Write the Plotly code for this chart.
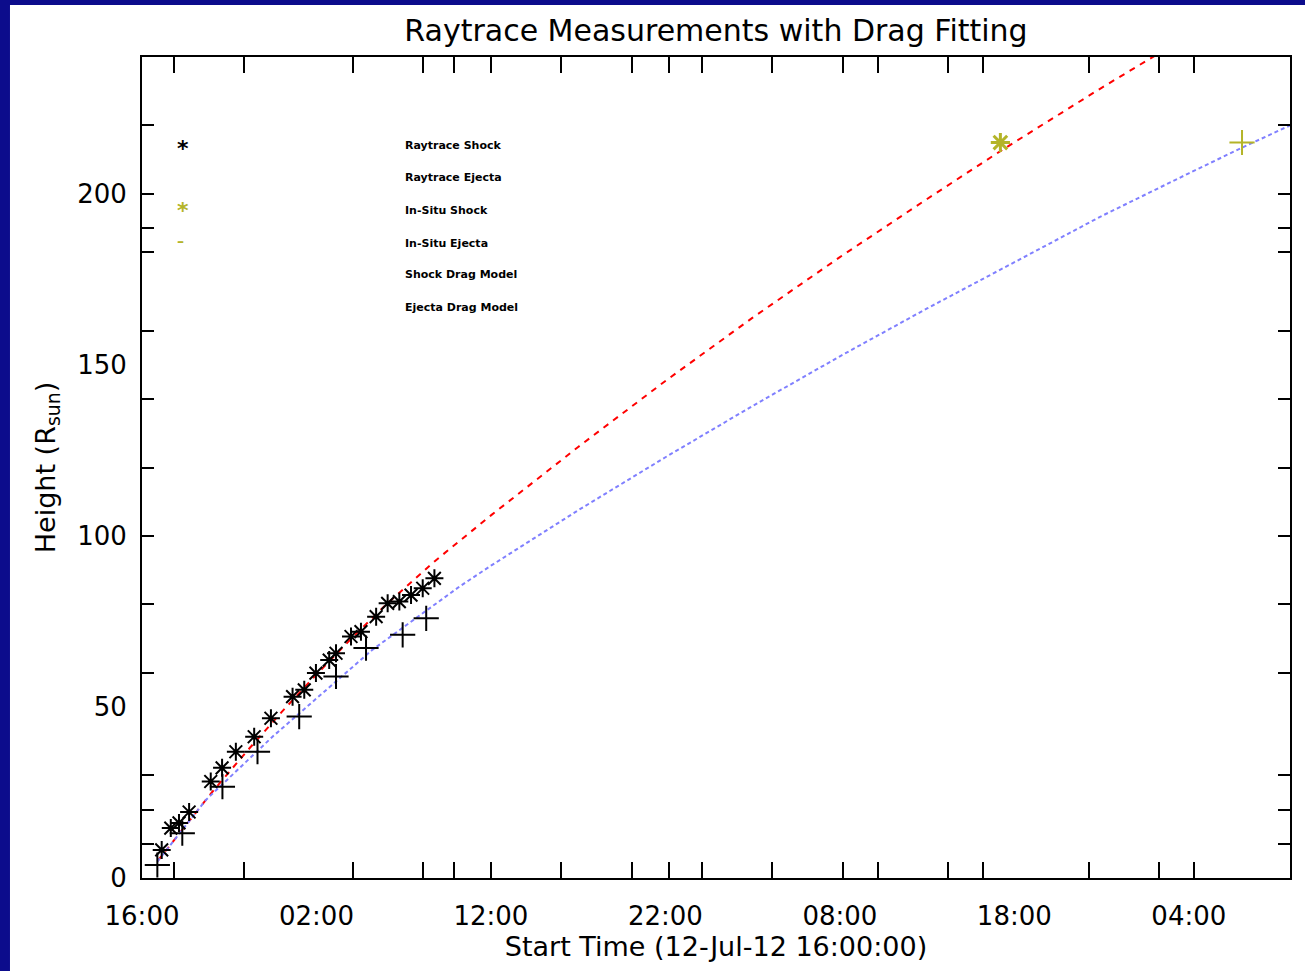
import plotly.graph_objects as go

# ---- data (hours since 12-Jul-12 16:00:00, heights in R_sun) ----
shock_hours = [1.13, 1.65, 2.12, 2.70, 3.94, 4.59, 5.38, 6.43, 7.39, 8.63, 9.30, 9.97,
               10.73, 11.12, 11.98, 12.55, 13.42, 14.08, 14.75, 15.42, 16.09, 16.76]
shock_heights = [8.2, 14.6, 16.1, 19.3, 28.2, 32.2, 36.9, 41.3, 46.7, 53.0, 55.0, 59.9,
                 63.7, 65.7, 70.6, 72.0, 76.4, 80.3, 80.8, 82.7, 84.7, 87.6]

ejecta_hours = [0.88, 2.31, 4.61, 6.62, 9.01, 11.12, 12.84, 14.94, 16.29]
ejecta_heights = [3.8, 13.1, 26.7, 36.9, 47.2, 58.9, 67.2, 71.1, 75.9]

insitu_shock_hours = [49.2]
insitu_shock_heights = [215.0]
insitu_ejecta_hours = [63.05]
insitu_ejecta_heights = [215.0]

shock_model_hours = [0.9, 2, 4, 6, 8, 10, 12, 14, 16.8, 20, 25, 30, 35, 40, 45, 49.2, 52, 55, 58.1, 60]
shock_model_heights = [5, 12, 25, 37, 48.5, 59.5, 70, 80, 92.7, 106, 126, 145.3, 163.8, 181.5,
                       198.5, 212.5, 221.5, 231, 240.5, 246]

ejecta_model_hours = [0.88, 3.66, 7.48, 13.2, 18.2, 20, 25, 30, 35, 40, 45, 50, 55, 60, 63.05, 65.8]
ejecta_model_heights = [4.8, 22.8, 41.3, 66.7, 85.2, 91.3, 107.5, 123, 138, 152.5, 166.5, 180,
                        193.5, 206, 213.5, 220]

x_label_vals = [0, 10, 20, 30, 40, 50, 60]
x_label_text = ["16:00", "02:00", "12:00", "22:00", "08:00", "18:00", "04:00"]
x_minor_vals = [1.84, 5.86, 12.1, 16.1, 17.9, 20.0, 24.0, 28.1, 30.2, 32.1, 36.1, 40.2,
                42.2, 46.2, 48.2, 54.3, 58.3, 60.3]
y_label_vals = [0, 50, 100, 150, 200]
y_minor_vals = [10, 20, 30, 60, 80, 100, 120, 140, 160, 183, 190, 200, 220]

legend_labels = ["Raytrace Shock", "Raytrace Ejecta", "In-Situ Shock", "In-Situ Ejecta",
                 "Shock Drag Model", "Ejecta Drag Model"]

OLIVE = "#b4b428"
NAVY = "#0c0c8c"
FONT = "DejaVu Sans"

fig = go.Figure()

fig.add_trace(go.Scatter(x=shock_model_hours, y=shock_model_heights, mode="lines",
                         line=dict(color="#ff0000", width=2, dash="6px,6px"),
                         name="Shock Drag Model", showlegend=False))
fig.add_trace(go.Scatter(x=ejecta_model_hours, y=ejecta_model_heights, mode="lines",
                         line=dict(color="#8080ff", width=2, dash="4px,3px"),
                         name="Ejecta Drag Model", showlegend=False))
fig.add_trace(go.Scatter(x=shock_hours, y=shock_heights, mode="markers",
                         marker=dict(symbol="asterisk-open", size=15, color="black",
                                     line=dict(color="black", width=2)),
                         name="Raytrace Shock", showlegend=False))
fig.add_trace(go.Scatter(x=ejecta_hours, y=ejecta_heights, mode="markers",
                         marker=dict(symbol="cross-thin-open", size=18, color="black",
                                     line=dict(color="black", width=2)),
                         name="Raytrace Ejecta", showlegend=False))
fig.add_trace(go.Scatter(x=insitu_shock_hours, y=insitu_shock_heights, mode="markers",
                         marker=dict(symbol="asterisk-open", size=16, color=OLIVE,
                                     line=dict(color=OLIVE, width=3)),
                         name="In-Situ Shock", showlegend=False))
fig.add_trace(go.Scatter(x=insitu_ejecta_hours, y=insitu_ejecta_heights, mode="markers",
                         marker=dict(symbol="cross-thin-open", size=18, color=OLIVE,
                                     line=dict(color=OLIVE, width=2)),
                         name="In-Situ Ejecta", showlegend=False))

# custom IDL-style legend
leg_y = [0.8928, 0.8538, 0.8136, 0.7734, 0.7345, 0.6943]
for lab, yy in zip(legend_labels, leg_y):
    fig.add_annotation(x=0.2273, y=yy, xref="paper", yref="paper", text="<b>" + lab + "</b>",
                       showarrow=False, xanchor="left", yanchor="middle",
                       font=dict(family=FONT, size=11, color="black"))
fig.add_annotation(x=0.0287, y=0.9068, xref="paper", yref="paper", text="<b>*</b>",
                   showarrow=False, font=dict(family=FONT, size=22, color="black"))
fig.add_annotation(x=0.0287, y=0.8301, xref="paper", yref="paper", text="<b>*</b>",
                   showarrow=False, font=dict(family=FONT, size=22, color=OLIVE))
fig.add_annotation(x=0.0287, y=0.7881, xref="paper", yref="paper", text="<b>–</b>",
                   showarrow=False, font=dict(family=FONT, size=14, color=OLIVE))

# navy frame strips (left and top)
fig.add_shape(type="rect", xref="paper", yref="paper", x0=-0.1237, x1=-0.115, y0=-0.1133,
              y1=1.0694, fillcolor=NAVY, line=dict(width=0), layer="below")
fig.add_shape(type="rect", xref="paper", yref="paper", x0=-0.1237, x1=1.0131, y0=1.0633,
              y1=1.0694, fillcolor=NAVY, line=dict(width=0), layer="below")

fig.update_layout(
    width=1305, height=971,
    margin=dict(l=142, r=15, t=57, b=93),
    paper_bgcolor="white", plot_bgcolor="white",
    font=dict(family=FONT, color="black"),
    title=dict(text="Raytrace Measurements with Drag Fitting", x=0.5, xref="paper",
               y=1 - 30 / 971, yref="container", xanchor="center", yanchor="middle",
               font=dict(family=FONT, size=30, color="black")),
    showlegend=False,
)
fig.update_xaxes(
    range=[0, 65.8], showgrid=False, zeroline=False,
    showline=True, linecolor="black", linewidth=2, mirror="ticks",
    tickmode="array", tickvals=x_label_vals, ticktext=x_label_text,
    ticks="inside", ticklen=0, tickcolor="black", ticklabelstandoff=14,
    tickfont=dict(family=FONT, size=26, color="black"),
    minor=dict(tickvals=x_minor_vals, ticks="inside", ticklen=16, tickwidth=2,
               tickcolor="black", showgrid=False),
    title=dict(text="Start Time (12-Jul-12 16:00:00)", standoff=6,
               font=dict(family=FONT, size=27, color="black")),
)
fig.update_yaxes(
    range=[0, 240], showgrid=False, zeroline=False,
    showline=True, linecolor="black", linewidth=2, mirror="ticks",
    tickmode="array", tickvals=y_label_vals, ticktext=[str(v) for v in y_label_vals],
    ticks="inside", ticklen=0, tickcolor="black", ticklabelstandoff=8,
    tickfont=dict(family=FONT, size=26, color="black"),
    minor=dict(tickvals=y_minor_vals, ticks="inside", ticklen=12, tickwidth=2,
               tickcolor="black", showgrid=False),
    title=dict(text="Height (R<sub>sun</sub>)", standoff=14,
               font=dict(family=FONT, size=27, color="black")),
)

fig.write_html("out.html")
